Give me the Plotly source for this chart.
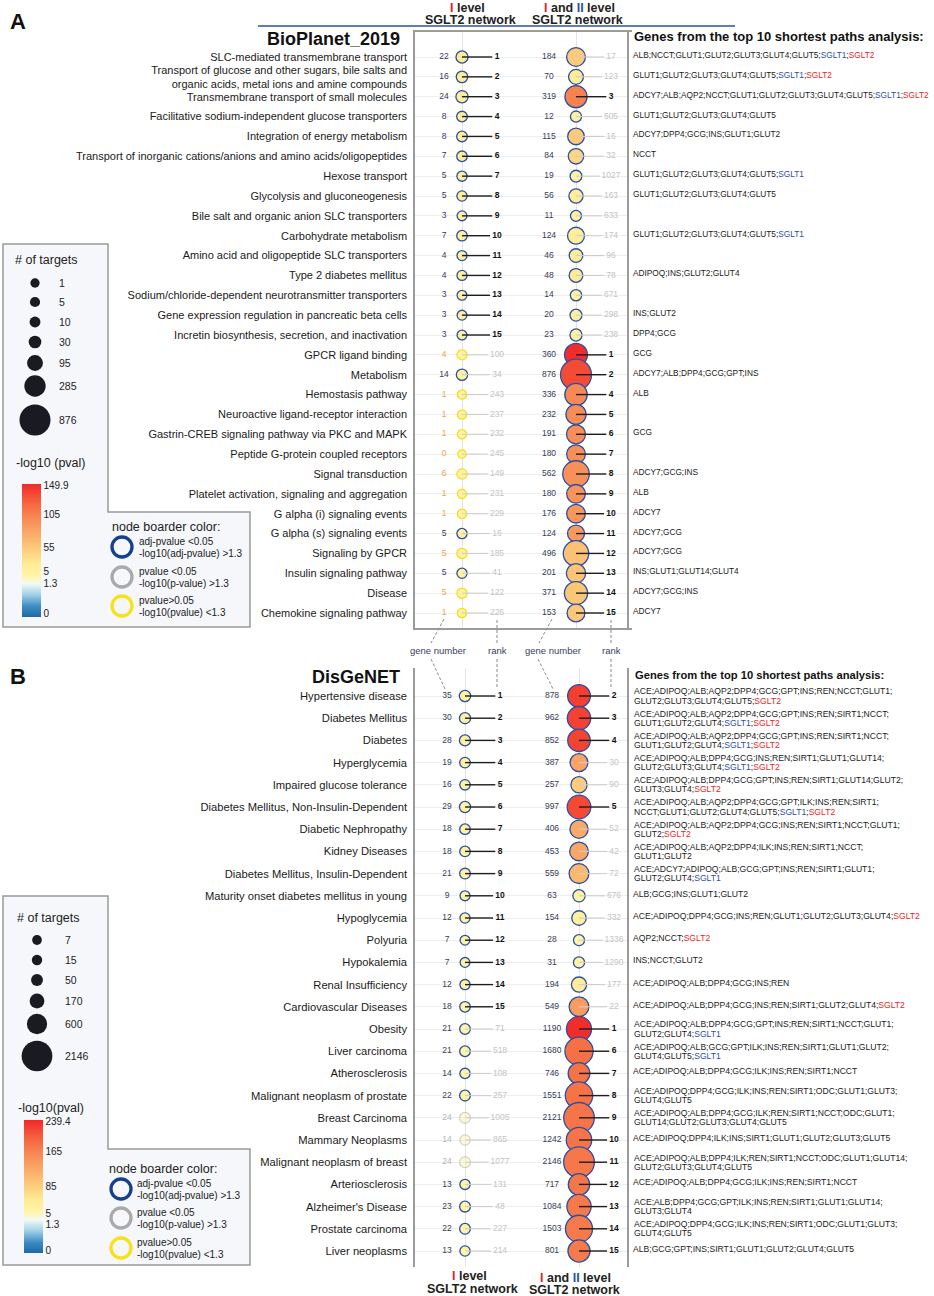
import numpy as np
import plotly.graph_objects as go

W, H = 934, 1296
FONT = "Liberation Sans, Arial, sans-serif"

# ---------------- DATA : panel A (BioPlanet_2019) ----------------
termsA = [
    "SLC-mediated transmembrane transport",
    "Transport of glucose and other sugars, bile salts and<br>organic acids, metal ions and amine compounds",
    "Transmembrane transport of small molecules",
    "Facilitative sodium-independent glucose transporters",
    "Integration of energy metabolism",
    "Transport of inorganic cations/anions and amino acids/oligopeptides",
    "Hexose transport",
    "Glycolysis and gluconeogenesis",
    "Bile salt and organic anion SLC transporters",
    "Carbohydrate metabolism",
    "Amino acid and oligopeptide SLC transporters",
    "Type 2 diabetes mellitus",
    "Sodium/chloride-dependent neurotransmitter transporters",
    "Gene expression regulation in pancreatic beta cells",
    "Incretin biosynthesis, secretion, and inactivation",
    "GPCR ligand binding",
    "Metabolism",
    "Hemostasis pathway",
    "Neuroactive ligand-receptor interaction",
    "Gastrin-CREB signaling pathway via PKC and MAPK",
    "Peptide G-protein coupled receptors",
    "Signal transduction",
    "Platelet activation, signaling and aggregation",
    "G alpha (i) signaling events",
    "G alpha (s) signaling events",
    "Signaling by GPCR",
    "Insulin signaling pathway",
    "Disease",
    "Chemokine signaling pathway",
]
genesA_lvl1 = [22, 16, 24, 8, 8, 7, 5, 5, 3, 7, 4, 4, 3, 3, 3, 4, 14, 1, 1, 1, 0, 6, 1, 1, 5, 5, 5, 5, 1]
rankA_lvl1 = [1, 2, 3, 4, 5, 6, 7, 8, 9, 10, 11, 12, 13, 14, 15,
              100, 34, 243, 237, 232, 245, 149, 231, 229, 16, 185, 41, 122, 226]
sigA_lvl1 = ["adj"] * 15 + ["ns", "adj", "ns", "ns", "ns", "ns", "ns", "ns", "ns",
                            "adj", "ns", "adj", "ns", "ns"]
pvalA_lvl1 = [20, 18, 17, 15, 14, 13, 12, 11, 10, 10, 9, 9, 8, 8, 8,
              5.5, 7, 5, 5, 5, 5, 5.3, 5, 5, 7.5, 5.2, 6.5, 5.4, 5]

genesA_lvl12 = [184, 70, 319, 12, 115, 84, 19, 56, 11, 124, 46, 48, 14, 20, 23,
                360, 876, 336, 232, 191, 180, 562, 180, 176, 124, 496, 201, 371, 153]
rankA_lvl12 = [17, 123, 3, 505, 16, 32, 1027, 163, 633, 174, 96, 78, 671, 298, 238,
               1, 2, 4, 5, 6, 7, 8, 9, 10, 11, 12, 13, 14, 15]
sigA_lvl12 = ["adj"] * 29
pvalA_lvl12 = [53, 18, 105, 8, 54, 42, 6, 15, 7, 15, 20, 22, 7, 11, 12,
               149.9, 135, 100, 98, 97, 96, 95, 93, 91, 88, 60, 58, 57, 56]

pathgenesA = [
    "ALB;NCCT;GLUT1;GLUT2;GLUT3;GLUT4;GLUT5;SGLT1;SGLT2",
    "GLUT1;GLUT2;GLUT3;GLUT4;GLUT5;SGLT1;SGLT2",
    "ADCY7;ALB;AQP2;NCCT;GLUT1;GLUT2;GLUT3;GLUT4;GLUT5;SGLT1;SGLT2",
    "GLUT1;GLUT2;GLUT3;GLUT4;GLUT5",
    "ADCY7;DPP4;GCG;INS;GLUT1;GLUT2",
    "NCCT",
    "GLUT1;GLUT2;GLUT3;GLUT4;GLUT5;SGLT1",
    "GLUT1;GLUT2;GLUT3;GLUT4;GLUT5",
    "",
    "GLUT1;GLUT2;GLUT3;GLUT4;GLUT5;SGLT1",
    "",
    "ADIPOQ;INS;GLUT2;GLUT4",
    "",
    "INS;GLUT2",
    "DPP4;GCG",
    "GCG",
    "ADCY7;ALB;DPP4;GCG;GPT;INS",
    "ALB",
    "",
    "GCG",
    "",
    "ADCY7;GCG;INS",
    "ALB",
    "ADCY7",
    "ADCY7;GCG",
    "ADCY7;GCG",
    "INS;GLUT1;GLUT14;GLUT4",
    "ADCY7;GCG;INS",
    "ADCY7",
]

# ---------------- DATA : panel B (DisGeNET) ----------------
termsB = [
    "Hypertensive disease", "Diabetes Mellitus", "Diabetes", "Hyperglycemia",
    "Impaired glucose tolerance", "Diabetes Mellitus, Non-Insulin-Dependent",
    "Diabetic Nephropathy", "Kidney Diseases", "Diabetes Mellitus, Insulin-Dependent",
    "Maturity onset diabetes mellitus in young", "Hypoglycemia", "Polyuria",
    "Hypokalemia", "Renal Insufficiency", "Cardiovascular Diseases", "Obesity",
    "Liver carcinoma", "Atherosclerosis", "Malignant neoplasm of prostate",
    "Breast Carcinoma", "Mammary Neoplasms", "Malignant neoplasm of breast",
    "Arteriosclerosis", "Alzheimer's Disease", "Prostate carcinoma", "Liver neoplasms",
]
genesB_lvl1 = [35, 30, 28, 19, 16, 29, 18, 18, 21, 9, 12, 7, 7, 12, 18,
               21, 21, 14, 22, 24, 14, 24, 13, 23, 22, 13]
rankB_lvl1 = [1, 2, 3, 4, 5, 6, 7, 8, 9, 10, 11, 12, 13, 14, 15,
              71, 518, 108, 257, 1005, 865, 1077, 131, 48, 227, 214]
sigB_lvl1 = ["adj"] * 19 + ["p", "p", "p"] + ["adj"] * 4
pvalB_lvl1 = [20, 19.5, 19, 18.5, 18, 17.5, 17, 16.5, 16, 15, 14.5, 14, 13.5, 13, 12.5,
              11, 9, 10.5, 9.6, 8.2, 8.5, 8, 10.3, 11.5, 9.8, 10]

genesB_lvl12 = [878, 962, 852, 387, 257, 997, 406, 453, 559, 63, 154, 28, 31, 194, 549,
                1190, 1680, 746, 1551, 2121, 1242, 2146, 717, 1084, 1503, 801]
rankB_lvl12 = [2, 3, 4, 30, 90, 5, 52, 42, 72, 676, 332, 1336, 1290, 177, 22,
               1, 6, 7, 8, 9, 10, 11, 12, 13, 14, 15]
sigB_lvl12 = ["adj"] * 26
pvalB_lvl12 = [226, 224, 222, 132, 88, 218, 126, 128, 108, 14, 30, 10, 11, 38, 140,
               239.4, 185, 183, 182, 181, 180, 179, 178, 177, 176, 175]

pathgenesB = [
    "ACE;ADIPOQ;ALB;AQP2;DPP4;GCG;GPT;INS;REN;NCCT;GLUT1;|GLUT2;GLUT3;GLUT4;GLUT5;SGLT2",
    "ACE;ADIPOQ;ALB;AQP2;DPP4;GCG;GPT;INS;REN;SIRT1;NCCT;|GLUT1;GLUT2;GLUT4;SGLT1;SGLT2",
    "ACE;ADIPOQ;ALB;AQP2;DPP4;GCG;GPT;INS;REN;SIRT1;NCCT;|GLUT1;GLUT2;GLUT4;SGLT1;SGLT2",
    "ACE;ADIPOQ;ALB;DPP4;GCG;INS;REN;SIRT1;GLUT1;GLUT14;|GLUT2;GLUT3;GLUT4;SGLT1;SGLT2",
    "ACE;ADIPOQ;ALB;DPP4;GCG;GPT;INS;REN;SIRT1;GLUT14;GLUT2;|GLUT3;GLUT4;SGLT2",
    "ACE;ADIPOQ;ALB;AQP2;DPP4;GCG;GPT;ILK;INS;REN;SIRT1;|NCCT;GLUT1;GLUT2;GLUT4;GLUT5;SGLT1;SGLT2",
    "ACE;ADIPOQ;ALB;AQP2;DPP4;GCG;INS;REN;SIRT1;NCCT;GLUT1;|GLUT2;SGLT2",
    "ACE;ADIPOQ;ALB;AQP2;DPP4;ILK;INS;REN;SIRT1;NCCT;|GLUT1;GLUT2",
    "ACE;ADCY7;ADIPOQ;ALB;GCG;GPT;INS;REN;SIRT1;GLUT1;|GLUT2;GLUT4;SGLT1",
    "ALB;GCG;INS;GLUT1;GLUT2",
    "ACE;ADIPOQ;DPP4;GCG;INS;REN;GLUT1;GLUT2;GLUT3;GLUT4;SGLT2",
    "AQP2;NCCT;SGLT2",
    "INS;NCCT;GLUT2",
    "ACE;ADIPOQ;ALB;DPP4;GCG;INS;REN",
    "ACE;ADIPOQ;ALB;DPP4;GCG;INS;REN;SIRT1;GLUT2;GLUT4;SGLT2",
    "ACE;ADIPOQ;ALB;DPP4;GCG;GPT;INS;REN;SIRT1;NCCT;GLUT1;|GLUT2;GLUT4;SGLT1",
    "ACE;ADIPOQ;ALB;GCG;GPT;ILK;INS;REN;SIRT1;GLUT1;GLUT2;|GLUT4;GLUT5;SGLT1",
    "ACE;ADIPOQ;ALB;DPP4;GCG;ILK;INS;REN;SIRT1;NCCT",
    "ACE;ADIPOQ;DPP4;GCG;ILK;INS;REN;SIRT1;ODC;GLUT1;GLUT3;|GLUT4;GLUT5",
    "ACE;ADIPOQ;ALB;DPP4;GCG;ILK;REN;SIRT1;NCCT;ODC;GLUT1;|GLUT14;GLUT2;GLUT3;GLUT4;GLUT5",
    "ACE;ADIPOQ;DPP4;ILK;INS;SIRT1;GLUT1;GLUT2;GLUT3;GLUT5",
    "ACE;ADIPOQ;ALB;DPP4;ILK;REN;SIRT1;NCCT;ODC;GLUT1;GLUT14;|GLUT2;GLUT3;GLUT4;GLUT5",
    "ACE;ADIPOQ;ALB;DPP4;GCG;ILK;INS;REN;SIRT1;NCCT",
    "ACE;ALB;DPP4;GCG;GPT;ILK;INS;REN;SIRT1;GLUT1;GLUT14;|GLUT3;GLUT4",
    "ACE;ADIPOQ;DPP4;GCG;ILK;INS;REN;SIRT1;ODC;GLUT1;GLUT3;|GLUT4;GLUT5",
    "ALB;GCG;GPT;INS;SIRT1;GLUT1;GLUT2;GLUT4;GLUT5",
]

# legend / colour bar values
legendA_targets = [1, 5, 10, 30, 95, 285, 876]
legendB_targets = [7, 15, 50, 170, 600, 2146]
cbarA_ticks = [0, 1.3, 5, 55, 105, 149.9]
cbarB_ticks = [0, 1.3, 5, 85, 165, 239.4]

# ---------------- STYLE ----------------
PPU = 114.0                       # pixels between the two columns
BORDER = {"adj": "#2c4ea3", "p": "#a9a9a9", "ns": "#f5df1c"}
NUMCOL = {"adj": "#363c5a", "p": "#b5b5b5", "ns": "#f3a23e"}
CBAR_FRAC_A = [0.03, 0.25, 0.34, 0.52, 0.77, 0.99]
CBAR_FRAC_B = [0.02, 0.215, 0.30, 0.50, 0.76, 0.99]
CS = [[0.0, "#1b69a6"], [0.08, "#3d8dc3"], [0.17, "#a2d2e8"], [0.25, "#f3faf4"],
      [0.31, "#fff5a6"], [0.40, "#fdeb96"], [0.52, "#fcc978"], [0.65, "#f9a466"],
      [0.77, "#f7824f"], [0.88, "#f45c3b"], [1.0, "#f2282a"]]
LEG_A_Y = [283, 302, 322, 342, 363, 386, 420]
LEG_B_Y = [940, 960, 980, 1001, 1024, 1056]


def px(x):
    return x / W


def py(y):
    return 1 - y / H


def dia(n, k):
    return 8.5 + k * np.sqrt(np.asarray(n, float))


def colorize(s):
    return (s.replace("SGLT1", "<span style='color:#2c4ea5'>SGLT1</span>")
             .replace("SGLT2", "<span style='color:#ee1c25'>SGLT2</span>"))


fig = go.Figure()
annotations = []
shapes = []


def ann(text, x, y, size, color="#222222", xanchor="center", yanchor="middle",
        xref="paper", yref="paper", yshift=0, bold=False):
    if bold:
        text = "<b>" + text + "</b>"
    annotations.append(dict(
        text=text, x=px(x) if xref == "paper" else x, y=py(y) if yref == "paper" else y,
        xref=xref, yref=yref, xanchor=xanchor, yanchor=yanchor, showarrow=False,
        yshift=yshift, font=dict(size=size, color=color, family=FONT)))


def add_panel(xa, ya, columns, k, stops, fracs, caxis):
    for col, g, r, v, s, numoff in columns:
        n = len(g)
        yy = list(range(n))
        fig.add_trace(go.Scatter(
            x=[col] * n, y=yy, mode="markers", xaxis=xa, yaxis=ya, hoverinfo="skip",
            showlegend=False,
            marker=dict(size=dia(g, k), color=np.interp(v, stops, fracs), coloraxis=caxis,
                        opacity=[0.5 if q == "p" else 1.0 for q in s],
                        line=dict(color=[BORDER[q] for q in s], width=1.3))))
        # connector lines circle -> rank
        for top in (True, False):
            xs, ys = [], []
            for i in range(n):
                if (r[i] <= 15) == top:
                    w = len(str(r[i])) * 4.45
                    xs += [col, col + (35 - w / 2 - 2.5) / PPU, None]
                    ys += [i, i, None]
            fig.add_trace(go.Scatter(
                x=xs, y=ys, mode="lines", xaxis=xa, yaxis=ya, hoverinfo="skip",
                showlegend=False,
                line=dict(color="#1e1e1e" if top else "#cdcdcd", width=1.4 if top else 1.1)))
        # rank labels
        for top in (True, False):
            idx = [i for i in range(n) if (r[i] <= 15) == top]
            fig.add_trace(go.Scatter(
                x=[col + 35 / PPU] * len(idx), y=idx, mode="text",
                text=[str(r[i]) for i in idx], textposition="middle center",
                xaxis=xa, yaxis=ya, hoverinfo="skip", showlegend=False,
                textfont=dict(size=8.5, family=FONT, color="#111111" if top else "#c4c4c4",
                              weight="bold" if top else "normal")))
        # gene-number labels
        fig.add_trace(go.Scatter(
            x=[col - numoff / PPU] * n, y=yy, mode="text", text=[str(q) for q in g],
            textposition="middle center", xaxis=xa, yaxis=ya, hoverinfo="skip",
            showlegend=False,
            textfont=dict(size=8.5, family=FONT, color=[NUMCOL[q] for q in s])))


add_panel("x", "y",
          [(1, genesA_lvl1, rankA_lvl1, pvalA_lvl1, sigA_lvl1, 18),
           (2, genesA_lvl12, rankA_lvl12, pvalA_lvl12, sigA_lvl12, 27)],
          0.76, cbarA_ticks, CBAR_FRAC_A, "coloraxis")
add_panel("x2", "y2",
          [(1, genesB_lvl1, rankB_lvl1, pvalB_lvl1, sigB_lvl1, 18),
           (2, genesB_lvl12, rankB_lvl12, pvalB_lvl12, sigB_lvl12, 27)],
          0.48, cbarB_ticks, CBAR_FRAC_B, "coloraxis2")

# genes-from-shortest-paths text
for yref, lst, fs in (("y", pathgenesA, 8.3), ("y2", pathgenesB, 8.6)):
    for i, s in enumerate(lst):
        if not s:
            continue
        parts = s.split("|")
        if len(parts) == 1:
            ann(colorize(parts[0]), 631, i, fs, "#1a1a1a", xanchor="left",
                yref=yref, yshift=2)
        else:
            ann(colorize(parts[0]), 632, i, fs, "#1a1a1a", xanchor="left",
                yref=yref, yshift=4.6)
            ann(colorize(parts[1]), 632, i, fs, "#1a1a1a", xanchor="left",
                yref=yref, yshift=-4.6)

# ---------------- legends (overlay axis in pixel space) ----------------
fig.add_trace(go.Scatter(
    x=[35] * len(legendA_targets), y=LEG_A_Y, mode="markers", xaxis="x3", yaxis="y3",
    hoverinfo="skip", showlegend=False,
    marker=dict(size=dia(legendA_targets, 0.76), color="#1a1a22", opacity=1,
                line=dict(width=0))))
fig.add_trace(go.Scatter(
    x=[37] * len(legendB_targets), y=LEG_B_Y, mode="markers", xaxis="x3", yaxis="y3",
    hoverinfo="skip", showlegend=False,
    marker=dict(size=dia(legendB_targets, 0.48), color="#1a1a22", opacity=1,
                line=dict(width=0))))
for v, yy in zip(legendA_targets, LEG_A_Y):
    ann(str(v), 57, yy, 10.5, xanchor="left")
for v, yy in zip(legendB_targets, LEG_B_Y):
    ann(str(v), 63, yy, 10.5, xanchor="left")

for cx, ys in ((122, [547, 577, 606]), (121, [1189, 1218, 1248])):
    fig.add_trace(go.Scatter(
        x=[cx] * 3, y=ys, mode="markers", xaxis="x3", yaxis="y3", hoverinfo="skip",
        showlegend=False,
        marker=dict(size=20, color="#f5f7fa", opacity=1,
                    line=dict(color=["#173f8f", "#aaaaaa", "#f7e11a"], width=3.3))))

border_txt = [("adj-pvalue &lt;0.05", "-log10(adj-pvalue) &gt;1.3"),
              ("pvalue &lt;0.05", "-log10(p-value) &gt;1.3"),
              ("pvalue&gt;0.05", "-log10(pvalue) &lt;1.3")]
for tx, ys in ((137, [547, 577, 606]), (135, [1189, 1218, 1248])):
    for (a, b), yy in zip(border_txt, ys):
        ann(a, tx, yy - 6, 10, xanchor="left")
        ann(b, tx, yy + 6, 10, xanchor="left")

ann("node boarder color:", 110, 527, 12.5, xanchor="left")
ann("node boarder color:", 107, 1169, 12.5, xanchor="left")
ann("# of targets", 46, 260, 12.5)
ann("# of targets", 48, 918, 12.5)
ann("-log10 (pval)", 50, 463, 12.5)
ann("-log10(pval)", 51, 1108, 12.5)

for pts in ([(3, 244), (108, 244), (108, 512), (250, 512), (250, 627), (3, 627)],
            [(3, 896), (108, 896), (108, 1149), (250, 1149), (250, 1265), (3, 1265)]):
    path = "M " + " L ".join(f"{px(a):.5f},{py(b):.5f}" for a, b in pts) + " Z"
    shapes.append(dict(type="path", path=path, xref="paper", yref="paper",
                       fillcolor="#f5f7fa", line=dict(color="#9a9a9a", width=1.5),
                       layer="below"))

# ---------------- headers / titles ----------------
RED, BLUE = "#e81e25", "#2c4ea5"
lvl1 = f"<span style='color:{RED}'>I</span> level"
lvl12 = f"<span style='color:{RED}'>I</span> and <span style='color:{BLUE}'>II</span> level"
ann(lvl1, 467, 8, 12.5, bold=True)
ann("SGLT2 network", 470, 20, 12.5, bold=True)
ann(lvl12, 579, 8, 12.5, bold=True)
ann("SGLT2 network", 577, 20, 12.5, bold=True)
ann(lvl1, 469, 1276, 12.5, bold=True)
ann("SGLT2 network", 472, 1289, 12.5, bold=True)
ann(lvl12, 575, 1278, 12.5, bold=True)
ann("SGLT2 network", 574, 1290, 12.5, bold=True)
shapes.append(dict(type="line", xref="paper", yref="paper", x0=px(258), x1=px(735),
                   y0=py(26), y1=py(26), line=dict(color=BLUE, width=1.6)))

ann("A", 18, 22, 22, "#111111", bold=True)
ann("B", 18, 676, 22, "#111111", bold=True)
ann("BioPlanet_2019", 402, 39, 18, "#111111", xanchor="right", bold=True)
ann("DisGeNET", 402, 677, 18, "#111111", xanchor="right", bold=True)
ann("Genes from the top 10 shortest paths analysis:", 632, 36, 13, "#111111",
    xanchor="left", bold=True)
ann("Genes from the top 10 shortest paths analysis:", 633, 675, 11.2, "#111111",
    xanchor="left", bold=True)

for x, t in ((438, "gene number"), (497, "rank"), (553, "gene number"), (611, "rank")):
    ann(t, x, 651, 9.5, "#3a4060")

for (x0, y0, x1, y1) in ((444, 619, 431, 643), (431, 659, 445, 689),
                         (497, 620, 497, 643), (497, 659, 497, 689),
                         (552, 619, 539, 643), (538, 659, 553, 689),
                         (611, 620, 611, 643), (611, 659, 611, 689)):
    shapes.append(dict(type="line", xref="paper", yref="paper", x0=px(x0), x1=px(x1),
                       y0=py(y0), y1=py(y1), line=dict(color="#8a8a8a", width=1, dash="3px,2px")))

# ---------------- axes / layout ----------------
def cbar(x, ybot, ticks, fracs):
    return dict(x=px(x), xanchor="left", y=py(ybot), yanchor="bottom", len=133,
                lenmode="pixels", thickness=19, thicknessmode="pixels", xpad=0, ypad=0,
                outlinewidth=0, ticks="", tickvals=fracs,
                ticktext=[("%g" % t) for t in ticks],
                tickfont=dict(size=10, color="#222222", family=FONT))


box = dict(showline=True, mirror=True, linecolor="#9b9b9b", linewidth=1.5, zeroline=False,
           fixedrange=True)
nA, nB = len(termsA), len(termsB)
fig.update_layout(
    width=W, height=H, margin=dict(l=0, r=0, t=0, b=0), autosize=False,
    paper_bgcolor="white", plot_bgcolor="rgba(0,0,0,0)",
    font=dict(family=FONT, color="#222222"),
    xaxis=dict(domain=[px(415), px(627)], range=[1 - 47 / PPU, 2 + 51 / PPU],
               tickvals=[1, 2], showticklabels=False, showgrid=True, gridcolor="#e4e4e4",
               ticks="", **box),
    yaxis=dict(domain=[py(628), py(32)], range=[nA - 1 + 15 / 19.86, -25 / 19.86],
               tickvals=list(range(nA)), ticktext=termsA, showgrid=True, gridcolor="#eeeeee",
               ticks="", tickfont=dict(size=11, color="#1a1a1a"), ticklabelstandoff=4, **box),
    xaxis2=dict(domain=[px(415), px(630)], range=[1 - 50 / PPU, 2 + 51 / PPU],
                tickvals=[1, 2], showticklabels=False, showgrid=True, gridcolor="#e4e4e4",
                ticks="", **box),
    yaxis2=dict(domain=[py(1267), py(668)], range=[nB - 1 + 16 / 22.2, -28 / 22.2],
                tickvals=list(range(nB)), ticktext=termsB, showgrid=True,
                gridcolor="#eeeeee", ticks="", tickfont=dict(size=11.2, color="#1a1a1a"),
                ticklabelstandoff=4, **box),
    xaxis3=dict(domain=[0, 1], range=[0, W], visible=False, fixedrange=True),
    yaxis3=dict(domain=[0, 1], range=[H, 0], visible=False, fixedrange=True),
    coloraxis=dict(cmin=0, cmax=1, colorscale=CS,
                   colorbar=cbar(22, 617, cbarA_ticks, CBAR_FRAC_A)),
    coloraxis2=dict(cmin=0, cmax=1, colorscale=CS,
                    colorbar=cbar(24, 1253, cbarB_ticks, CBAR_FRAC_B)),
    annotations=annotations, shapes=shapes,
)

fig.write_html("out.html", config={"displayModeBar": False},
               post_script="document.body.style.margin='0';")
